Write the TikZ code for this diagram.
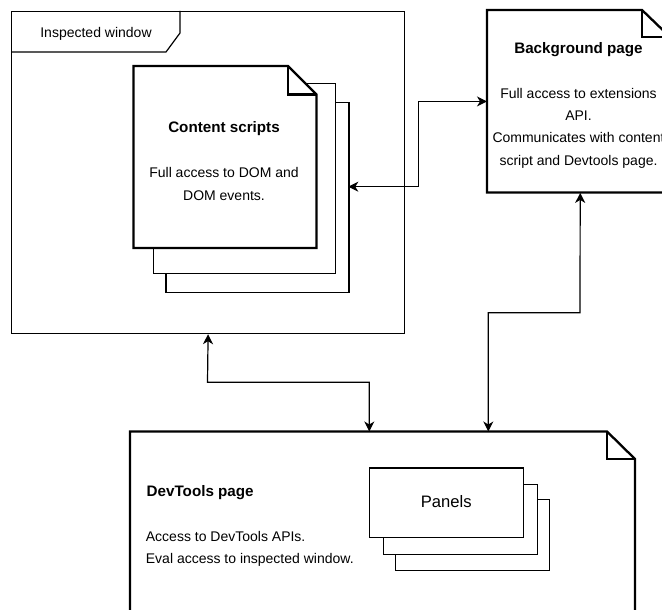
\documentclass[tikz,border=0pt]{standalone}
\usepackage{fontspec}
\setmainfont{Liberation Sans}
\usetikzlibrary{arrows.meta}

\begin{document}
\begin{tikzpicture}[x=1pt,y=-1pt]
\tikzstyle{every node}+=[inner sep=0pt]
\tikzstyle{frame}=[draw=black, line width=1.2pt, anchor=north west]
\tikzstyle{sheet}=[draw=black, fill=white, line width=1.2pt, anchor=north west]
\tikzstyle{page}=[anchor=north west]
\tikzstyle{doc}=[draw=black, fill=white, line width=2.3pt, line join=miter]
\tikzstyle{link}=[draw=black, line width=1.2pt, {Stealth[length=10pt,width=10pt,inset=3pt]}-{Stealth[length=10pt,width=10pt,inset=3pt]}]
\tikzstyle{txt}=[font=\fontsize{14}{22.3}\selectfont, anchor=base]
\tikzstyle{head}=[font=\fontsize{15.2}{18}\selectfont\bfseries, anchor=base]

\clip (0,0) rectangle (662,610);
\fill [white] (0,0) rectangle (662,610);

% inspected window
\node [frame, minimum width=393pt, minimum height=322pt] (iw) at (11,11) {};
\draw [black, line width=1.2pt] (11,52) -- (166,52) -- (180,33) -- (180,11);
\node [txt] (iwlabel) at (96,37.7) {Inspected window};

% content scripts
\node [sheet, minimum width=183pt, minimum height=190pt] (cs3) at (165.3,101.7) {};
\node [sheet, minimum width=182pt, minimum height=189.5pt] (cs2) at (153,83) {};
\node [page, minimum width=183pt, minimum height=182pt] (cs) at (133.5,66) {};
\draw [doc] (133.5,66) -- (288,66) -- (316.5,94.5) -- (316.5,248) -- (133.5,248) -- cycle;
\draw [doc, fill=none] (288,66) -- (288,94.5) -- (316.5,94.5);
\node [head] (cstitle) at (224,132.3) {Content scripts};
\node [txt, align=center] (csbody) at (224,200) {Full access to DOM and\\DOM events.};

% background page
\node [page, minimum width=183pt, minimum height=182.5pt] (bg) at (487,10) {};
\draw [doc] (487,10) -- (642,10) -- (670,37) -- (670,192.5) -- (487,192.5) -- cycle;
\draw [doc, fill=none] (642,10) -- (642,37) -- (670,37);
\node [head] (bgtitle) at (578.5,54) {Background page};
\node [txt, align=center] (bgbody) at (578.5,165) {Full access to extensions\\API.\\Communicates with content\\script and Devtools page.};

% devtools page
\node [page, minimum width=505pt, minimum height=200pt] (dt) at (130,431.5) {};
\draw [doc] (130,431.5) -- (607,431.5) -- (635,459) -- (635,640) -- (130,640) -- cycle;
\draw [doc, fill=none] (607,431.5) -- (607,459) -- (635,459);
\node [head, anchor=base west] (dttitle) at (146.5,496.7) {DevTools page};
\node [txt, anchor=base west, align=left] (dtbody) at (145.7,563.3) {Access to DevTools APIs.\\Eval access to inspected window.};

% panels
\node [sheet, minimum width=154.5pt, minimum height=70.5pt] (pn3) at (394.7,499) {};
\node [sheet, minimum width=154.5pt, minimum height=70pt] (pn2) at (382.7,484) {};
\node [sheet, minimum width=154.5pt, minimum height=69.5pt] (pn) at (368.7,467.3) {};
\node [font=\fontsize{16.6}{20}\selectfont, anchor=base] (pnlabel) at (446.3,507.7) {Panels};

% connectors
\coordinate (csin) at (348.3,186.7);
\coordinate (dtin1) at (369.3,431.5);
\coordinate (dtin2) at (488.3,431.5);
\draw [link] (csin) -- (418.3,186.7) |- (bg.west);
\draw [link] (iw.south) -- (207.5,382.3) -| (dtin1);
\draw [link] ([xshift=1.5pt]bg.south) -- (580,312.7) -| (dtin2);
\end{tikzpicture}
\end{document}
